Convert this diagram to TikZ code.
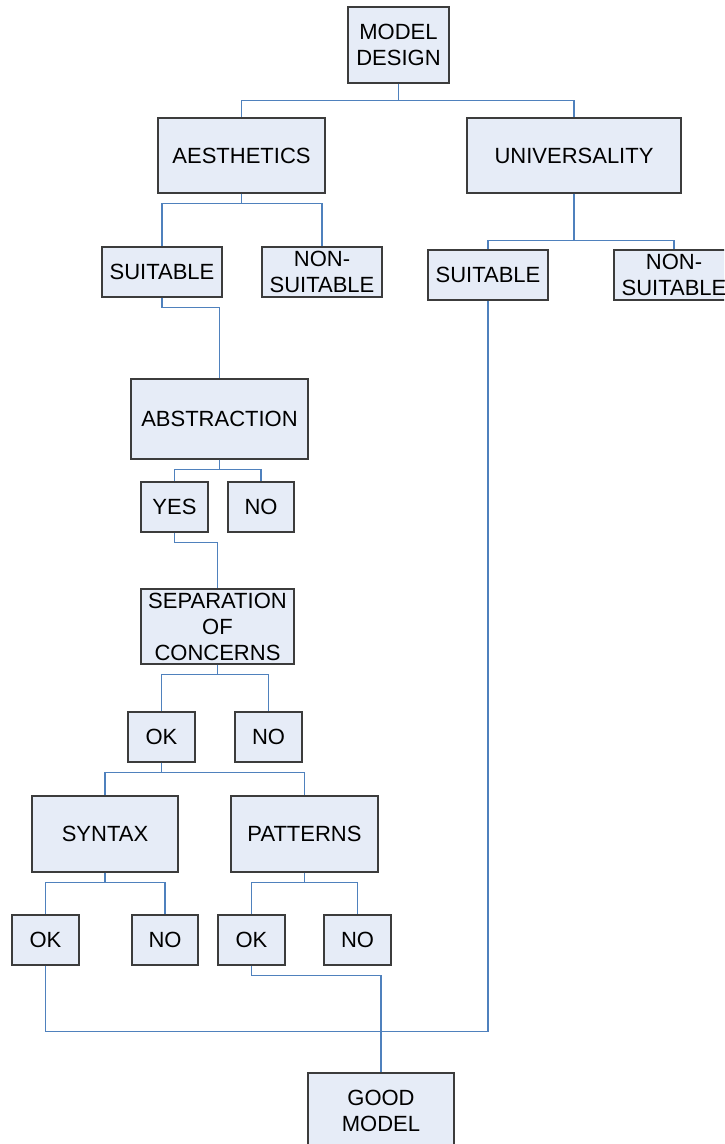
\documentclass[tikz,border=0pt]{standalone}
\usepackage{fontspec}
\setmainfont{Liberation Sans}
\definecolor{boxfill}{RGB}{230,236,247}
\definecolor{boxline}{RGB}{60,60,60}
\definecolor{connblue}{RGB}{79,129,189}
\tikzset{
  box/.style={draw=boxline, line width=1.2pt, fill=boxfill, rectangle, inner sep=0pt,
    align=center, font=\fontsize{22}{26}\selectfont, text=black},
  conn/.style={draw=connblue, line width=1.1pt}
}
\begin{document}
\begin{tikzpicture}[x=1pt,y=-1pt]
\useasboundingbox (0,0) rectangle (724,1144);
\clip (0,0) rectangle (724,1144);
\fill[white] (0,0) rectangle (724,1144);
% nodes
\node[box, minimum width=101pt, minimum height=76pt] (md) at (398.5,45) {MODEL\\DESIGN};
\node[box, minimum width=167pt, minimum height=75pt] (aes) at (241.5,155.5) {AESTHETICS};
\node[box, minimum width=214pt, minimum height=75pt] (uni) at (574,155.5) {UNIVERSALITY};
\node[box, minimum width=120pt, minimum height=50pt] (suit1) at (162,272) {SUITABLE};
\node[box, minimum width=120pt, minimum height=50pt] (nons1) at (322,272) {NON-\\SUITABLE};
\node[box, minimum width=120pt, minimum height=50pt] (suit2) at (488,275) {SUITABLE};
\node[box, minimum width=120pt, minimum height=50pt] (nons2) at (674,275) {NON-\\SUITABLE};
\node[box, minimum width=177pt, minimum height=80pt] (abs) at (219.5,419) {ABSTRACTION};
\node[box, minimum width=67pt, minimum height=50pt] (yes) at (174.5,507) {YES};
\node[box, minimum width=66pt, minimum height=50pt] (no1) at (261,507) {NO};
\node[box, minimum width=153pt, minimum height=75pt] (sep) at (217.5,626.5) {SEPARATION\\OF\\CONCERNS};
\node[box, minimum width=67pt, minimum height=50pt] (ok0) at (161.5,737) {OK};
\node[box, minimum width=67pt, minimum height=50pt] (no0) at (268.5,737) {NO};
\node[box, minimum width=146pt, minimum height=76pt] (syn) at (105,834) {SYNTAX};
\node[box, minimum width=147pt, minimum height=76pt] (pat) at (304.5,834) {PATTERNS};
\node[box, minimum width=67pt, minimum height=50pt] (ok1) at (45.5,940) {OK};
\node[box, minimum width=66pt, minimum height=50pt] (no2) at (165,940) {NO};
\node[box, minimum width=67pt, minimum height=50pt] (ok2) at (251.5,940) {OK};
\node[box, minimum width=67pt, minimum height=50pt] (no3) at (357.5,940) {NO};
\node[box, minimum width=146pt, minimum height=76pt] (good) at (381,1111) {GOOD\\MODEL};
% connectors
\draw[conn] (md.south) -- ++(0,17) -| (aes.north);
\draw[conn] (md.south) -- ++(0,17) -| (uni.north);
\draw[conn] (aes.south) -- ++(0,10) -| (suit1.north);
\draw[conn] (aes.south) -- ++(0,10) -| (nons1.north);
\draw[conn] (uni.south) -- ++(0,47) -| (suit2.north);
\draw[conn] (uni.south) -- ++(0,47) -| (nons2.north);
\draw[conn] (suit1.south) -- ++(0,10) -| (abs.north);
\draw[conn] (abs.south) -- ++(0,10) -| (yes.north);
\draw[conn] (abs.south) -- ++(0,10) -| (no1.north);
\draw[conn] (yes.south) -- ++(0,10) -| (sep.north);
\draw[conn] (sep.south) -- ++(0,10) -| (ok0.north);
\draw[conn] (sep.south) -- ++(0,10) -| (no0.north);
\draw[conn] (ok0.south) -- ++(0,10) -| (syn.north);
\draw[conn] (ok0.south) -- ++(0,10) -| (pat.north);
\draw[conn] (syn.south) -- ++(0,10) -| (ok1.north);
\draw[conn] (syn.south) -- ++(0,10) -| (no2.north);
\draw[conn] (pat.south) -- ++(0,10) -| (ok2.north);
\draw[conn] (pat.south) -- ++(0,10) -| (no3.north);
\draw[conn] (ok2.south) -- ++(0,10) -| (good.north);
\draw[conn] (ok1.south) -- ++(0,66) -| (suit2.south);
\end{tikzpicture}
\end{document}
